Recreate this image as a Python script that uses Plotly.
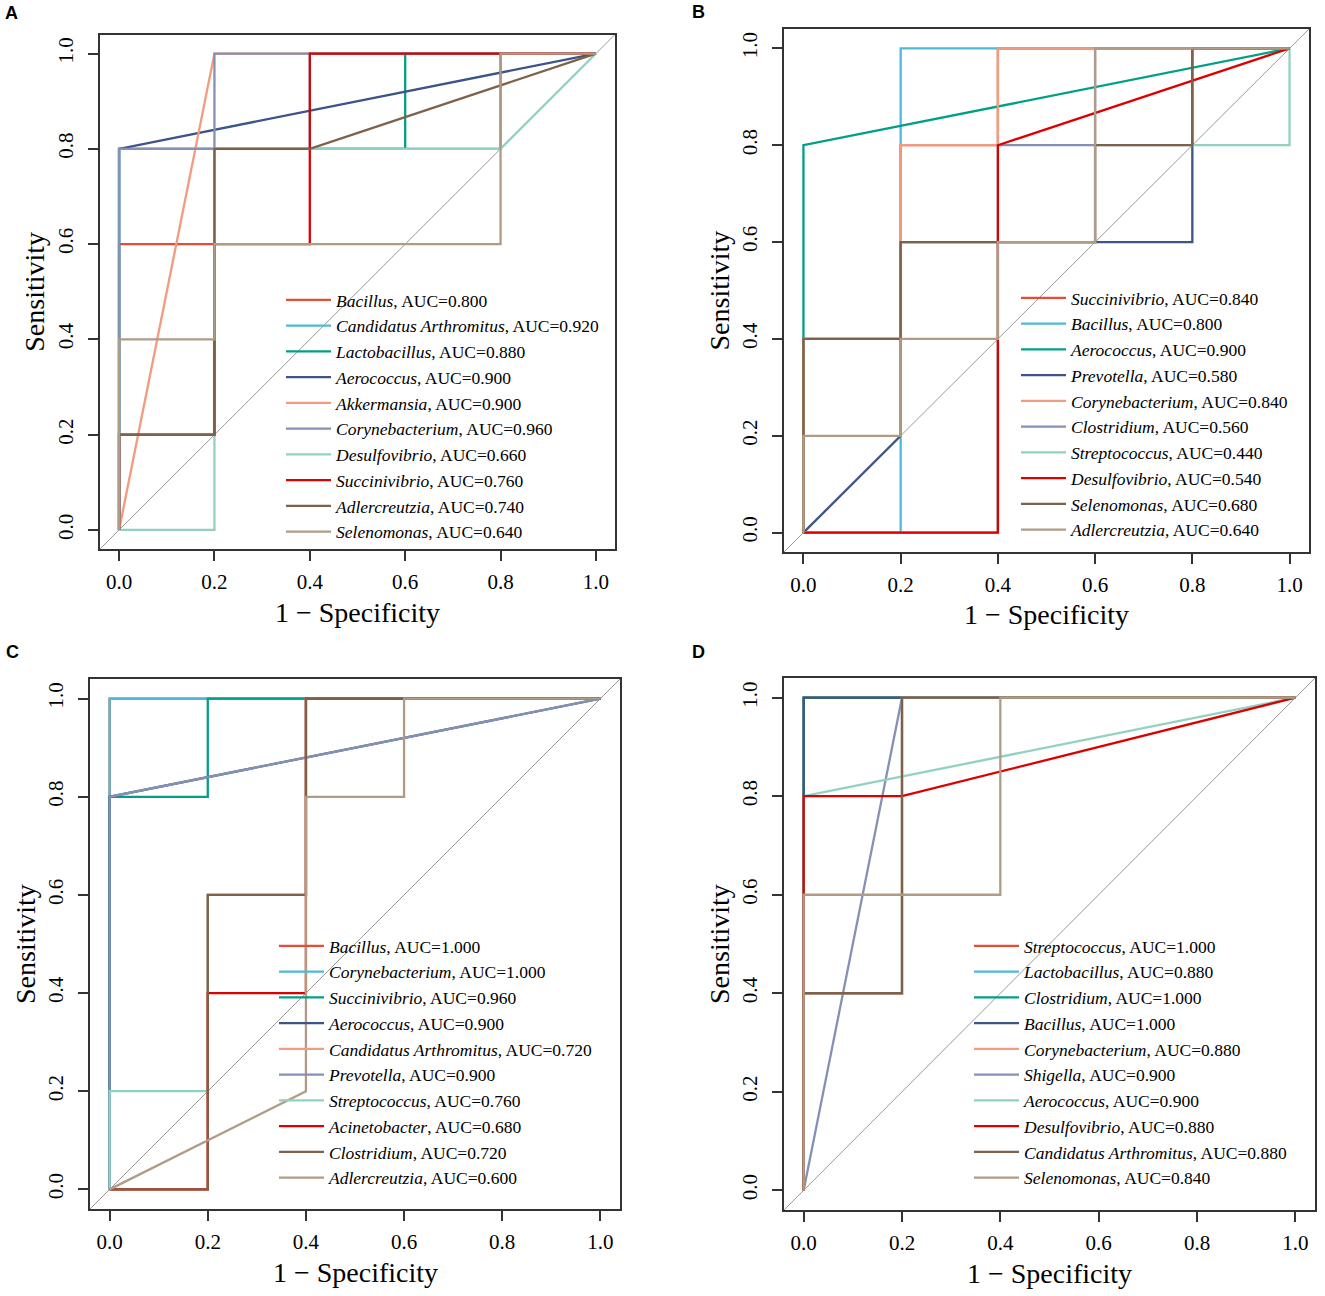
import plotly.graph_objects as go

W, H = 1325, 1296

# NPG-like palette used by the ROC curves (same order in every panel)
colors = ["#E64B35", "#4DBBD5", "#00A087", "#3C5488", "#F39B7F",
          "#8491B4", "#91D1C2", "#DC0000", "#7E6148", "#B09C85"]

# ---- panel A
a_names = ["Bacillus", "Candidatus Arthromitus", "Lactobacillus", "Aerococcus", "Akkermansia",
           "Corynebacterium", "Desulfovibrio", "Succinivibrio", "Adlercreutzia", "Selenomonas"]
a_auc = [0.800, 0.920, 0.880, 0.900, 0.900, 0.960, 0.660, 0.760, 0.740, 0.640]
a_fpr = [[0, 0, 0.2, 0.2, 0.8, 0.8, 1], [0, 0, 0.4, 0.4, 1], [0, 0, 0.6, 0.6, 1], [0, 0, 1], [0, 0.2, 1],
         [0, 0, 0.2, 0.2, 1], [0, 0.2, 0.2, 0.8, 1], [0, 0, 0.2, 0.2, 0.4, 0.4, 1],
         [0, 0, 0.2, 0.2, 0.4, 1], [0, 0, 0.2, 0.2, 0.8, 0.8, 1]]
a_tpr = [[0, 0.6, 0.6, 0.8, 0.8, 1, 1], [0, 0.8, 0.8, 1, 1], [0, 0.8, 0.8, 1, 1], [0, 0.8, 1], [0, 1, 1],
         [0, 0.8, 0.8, 1, 1], [0, 0, 0.8, 0.8, 1], [0, 0.2, 0.2, 0.6, 0.6, 1, 1],
         [0, 0.2, 0.2, 0.8, 0.8, 1], [0, 0.4, 0.4, 0.6, 0.6, 1, 1]]

# ---- panel B
b_names = ["Succinivibrio", "Bacillus", "Aerococcus", "Prevotella", "Corynebacterium",
           "Clostridium", "Streptococcus", "Desulfovibrio", "Selenomonas", "Adlercreutzia"]
b_auc = [0.840, 0.800, 0.900, 0.580, 0.840, 0.560, 0.440, 0.540, 0.680, 0.640]
b_fpr = [[0, 0, 0.2, 0.2, 0.4, 0.4, 1], [0, 0.2, 0.2, 1], [0, 0, 1], [0, 0.2, 0.2, 0.8, 0.8, 1],
         [0, 0, 0.2, 0.2, 0.4, 0.4, 1], [0, 0.4, 0.4, 0.6, 0.6, 1], [0, 0.4, 0.4, 0.6, 0.6, 1, 1],
         [0, 0.4, 0.4, 1], [0, 0, 0.2, 0.2, 0.6, 0.6, 0.8, 0.8, 1],
         [0, 0, 0.2, 0.2, 0.4, 0.4, 0.6, 0.6, 1]]
b_tpr = [[0, 0.4, 0.4, 0.8, 0.8, 1, 1], [0, 0, 1, 1], [0, 0.8, 1], [0, 0.2, 0.6, 0.6, 1, 1],
         [0, 0.4, 0.4, 0.8, 0.8, 1, 1], [0, 0, 0.8, 0.8, 1, 1], [0, 0, 0.6, 0.6, 0.8, 0.8, 1],
         [0, 0, 0.8, 1], [0, 0.4, 0.4, 0.6, 0.6, 0.8, 0.8, 1, 1],
         [0, 0.2, 0.2, 0.4, 0.4, 0.6, 0.6, 1, 1]]

# ---- panel C
c_names = ["Bacillus", "Corynebacterium", "Succinivibrio", "Aerococcus", "Candidatus Arthromitus",
           "Prevotella", "Streptococcus", "Acinetobacter", "Clostridium", "Adlercreutzia"]
c_auc = [1.000, 1.000, 0.960, 0.900, 0.720, 0.900, 0.760, 0.680, 0.720, 0.600]
c_fpr = [[0, 0, 1], [0, 0, 1], [0, 0, 0.2, 0.2, 1], [0, 0, 1], [0, 0.2, 0.2, 0.4, 0.4, 1],
         [0, 0, 1], [0, 0, 0.2, 0.2, 0.4, 0.4, 1], [0, 0.2, 0.2, 0.4, 0.4, 1],
         [0, 0.2, 0.2, 0.4, 0.4, 1], [0, 0.4, 0.4, 0.6, 0.6, 1]]
c_tpr = [[0, 1, 1], [0, 1, 1], [0, 0.8, 0.8, 1, 1], [0, 0.8, 1], [0, 0, 0.6, 0.6, 1, 1],
         [0, 0.8, 1], [0, 0.2, 0.2, 0.6, 0.6, 1, 1], [0, 0, 0.4, 0.4, 1, 1],
         [0, 0, 0.6, 0.6, 1, 1], [0, 0.2, 0.8, 0.8, 1, 1]]

# ---- panel D
d_names = ["Streptococcus", "Lactobacillus", "Clostridium", "Bacillus", "Corynebacterium",
           "Shigella", "Aerococcus", "Desulfovibrio", "Candidatus Arthromitus", "Selenomonas"]
d_auc = [1.000, 0.880, 1.000, 1.000, 0.880, 0.900, 0.900, 0.880, 0.880, 0.840]
d_fpr = [[0, 0, 1], [0, 0, 0.2, 0.2, 1], [0, 0, 1], [0, 0, 1], [0, 0, 0.2, 0.2, 1],
         [0, 0.2, 1], [0, 0, 1], [0, 0, 0.2, 1], [0, 0, 0.2, 0.2, 1], [0, 0, 0.4, 0.4, 1]]
d_tpr = [[0, 1, 1], [0, 0.4, 0.4, 1, 1], [0, 1, 1], [0, 1, 1], [0, 0.4, 0.4, 1, 1],
         [0, 1, 1], [0, 0.8, 1], [0, 0.8, 0.8, 1], [0, 0.4, 0.4, 1, 1], [0, 0.6, 0.6, 1, 1]]

tick_vals = [0, 0.2, 0.4, 0.6, 0.8, 1.0]
tick_text = ["0.0", "0.2", "0.4", "0.6", "0.8", "1.0"]

SERIF = "Liberation Serif, Times New Roman, serif"


def fx(px):  # picture pixel -> paper x
    return px / W


def fy(py):  # picture pixel -> paper y
    return 1 - py / H


# panel boxes in picture pixels: left, top, right, bottom ; legend (line start x, first row y)
panels = [
    dict(letter="A", names=a_names, auc=a_auc, fpr=a_fpr, tpr=a_tpr,
         box=(100, 34.5, 615, 549), leg=(287, 302), lab=(11, 13)),
    dict(letter="B", names=b_names, auc=b_auc, fpr=b_fpr, tpr=b_tpr,
         box=(784, 29, 1309, 552), leg=(1022, 300), lab=(698, 12)),
    dict(letter="C", names=c_names, auc=c_auc, fpr=c_fpr, tpr=c_tpr,
         box=(90, 679, 620, 1209), leg=(280, 948), lab=(12, 652)),
    dict(letter="D", names=d_names, auc=d_auc, fpr=d_fpr, tpr=d_tpr,
         box=(784, 678, 1315, 1210), leg=(975, 948), lab=(698, 652)),
]

fig = go.Figure()
annotations = []
layout = {}

for k, p in enumerate(panels):
    n = "" if k == 0 else str(k + 1)
    xa, ya = "x" + n, "y" + n
    leg = "legend" + n
    l, t, r, b = p["box"]

    # chance line spanning the whole plot region
    fig.add_trace(go.Scatter(x=[-0.04, 1.04], y=[-0.04, 1.04], mode="lines",
                             line=dict(color="#9A9A9A", width=1), showlegend=False,
                             hoverinfo="skip", xaxis=xa, yaxis=ya))
    for i, name in enumerate(p["names"]):
        fig.add_trace(go.Scatter(
            x=p["fpr"][i], y=p["tpr"][i], mode="lines",
            line=dict(color=colors[i], width=2.3),
            name=f"<i>{name}</i>, AUC={p['auc'][i]:.3f}",
            legend=leg, xaxis=xa, yaxis=ya))

    axis_common = dict(range=[-0.04, 1.04], tickvals=tick_vals, ticktext=tick_text,
                       showgrid=False, zeroline=False, showline=True, mirror=True,
                       linecolor="#333333", linewidth=1.5, ticks="outside", ticklen=10,
                       tickwidth=1.5, tickcolor="#333333",
                       tickfont=dict(family=SERIF, size=21, color="black"))
    layout["xaxis" + n] = dict(axis_common, domain=[fx(l), fx(r)], anchor=ya,
                               ticklabelstandoff=3)
    layout["yaxis" + n] = dict(axis_common, domain=[fy(b), fy(t)], anchor=xa,
                               tickangle=-90, ticklabelstandoff=7)

    lx, ly = p["leg"]
    layout[leg] = dict(x=fx(lx - 6), y=fy(ly - 20), xanchor="left", yanchor="top",
                       xref="paper", yref="paper", bgcolor="rgba(0,0,0,0)",
                       traceorder="normal", itemwidth=45,
                       font=dict(family=SERIF, size=17.5, color="black"))

    cx = (l + r) / 2
    cy = (t + b) / 2
    annotations.append(dict(text="1 \u2212 Specificity", x=fx(cx), y=fy(b + 63),
                            xanchor="center", yanchor="middle",
                            xref="paper", yref="paper", showarrow=False,
                            font=dict(family=SERIF, size=28, color="black")))
    annotations.append(dict(text="Sensitivity", x=fx(l - 65), y=fy(cy), textangle=-90,
                            xanchor="center", yanchor="middle",
                            xref="paper", yref="paper", showarrow=False,
                            font=dict(family=SERIF, size=28, color="black")))
    annotations.append(dict(text="<b>" + p["letter"] + "</b>", x=fx(p["lab"][0]),
                            y=fy(p["lab"][1]), xref="paper", yref="paper",
                            xanchor="center", yanchor="middle", showarrow=False,
                            font=dict(family="Liberation Sans, Arial, sans-serif", size=18,
                                      color="black")))

fig.update_layout(**layout)
fig.update_layout(width=W, height=H, margin=dict(l=0, r=0, t=0, b=0),
                  paper_bgcolor="white", plot_bgcolor="white",
                  annotations=annotations, showlegend=True)

# drop the browser's default 8px body margin so the figure fills the window exactly
fig.write_html("out.html", config={"displayModeBar": False},
               post_script="document.body.style.margin='0px';")
